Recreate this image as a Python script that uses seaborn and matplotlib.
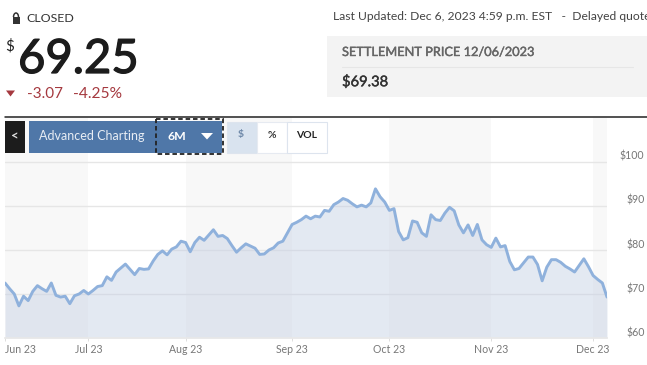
import numpy as np
import pandas as pd
import matplotlib
matplotlib.use('Agg')
import matplotlib.pyplot as plt
import matplotlib.patheffects as pe
from matplotlib.patches import Rectangle, Arc
import seaborn as sns

# settlement price per session, the axis is ordinal (one slot per session)
prices = [
    72.5, 71.2, 70.0, 67.3, 69.5, 68.5, 70.6, 71.9, 71.2, 70.6,
    72.5, 69.7, 69.3, 69.5, 67.8, 69.6, 70.0, 70.8, 70.0, 70.8,
    71.7, 71.9, 73.9, 73.1, 75.0, 75.9, 76.8, 75.6, 74.4, 75.8,
    75.6, 75.7, 77.5, 79.0, 79.8, 78.9, 80.2, 80.7, 82.0, 81.7,
    79.6, 81.7, 82.9, 82.2, 83.4, 84.6, 83.1, 83.3, 82.6, 81.0,
    79.5, 80.5, 81.4, 80.9, 80.4, 79.0, 79.1, 80.0, 80.5, 81.6,
    82.0, 83.9, 85.8, 86.3, 86.9, 87.7, 87.1, 87.7, 87.5, 89.0,
    88.8, 90.3, 90.9, 91.7, 91.3, 90.5, 89.8, 90.2, 89.8, 90.7,
    93.9, 92.1, 90.9, 89.0, 89.4, 84.2, 82.3, 82.8, 86.6, 86.3,
    83.9, 83.1, 88.0, 86.9, 86.7, 88.4, 89.7, 88.9, 85.7, 83.9,
    85.7, 83.3, 85.8, 82.3, 81.2, 80.6, 82.7, 80.7, 81.0, 77.4,
    75.5, 75.8, 77.1, 78.4, 78.4, 76.7, 73.0, 76.1, 77.8, 77.8,
    77.2, 76.3, 75.7, 75.0, 76.5, 78.0, 76.2, 74.2, 73.3, 72.5,
    69.3,
]
month_labels = ['Jun 23', 'Jul 23', 'Aug 23', 'Sep 23', 'Oct 23', 'Nov 23', 'Dec 23']
month_starts = [0, 18, 39, 62, 83, 105, 127]
y_ticks = [60, 70, 80, 90, 100]

W, H = 647, 365
BLUE = '#4f77a8'
RED = '#a5393f'

sns.set_theme(style='white')
plt.rcParams['font.family'] = ['Lato', 'DejaVu Sans']

df = pd.DataFrame({'session': np.arange(len(prices)), 'price': prices})
last_session = len(prices) - 1


def thick(width, color):
    # Lato regular is a bit too thin next to the reference, fatten it slightly
    return [pe.withStroke(linewidth=width, foreground=color)]


fig = plt.figure(figsize=(W / 100, H / 100), dpi=100, facecolor='white')

# chart area in pixels: x 5-607, y 118-338
ax = fig.add_axes([5 / W, 1 - 338 / H, 602 / W, 220 / H])
ax.set_facecolor('white')

# alternating month bands
edges = month_starts + [last_session]
for i in range(0, len(edges) - 1, 2):
    ax.axvspan(edges[i], edges[i + 1], color='#f8f8f8', lw=0, zorder=0)

for tick in y_ticks[1:]:
    ax.axhline(tick, color='#e6e6e6', lw=1, zorder=1)

ax.fill_between(df['session'], df['price'], 60, color='#c6d1e5', alpha=0.48, lw=0, zorder=2)
sns.lineplot(data=df, x='session', y='price', ax=ax, color='#8fb1dc', lw=2.1, zorder=3)

ax.set_xlim(0, last_session)
ax.set_ylim(60, 110)
ax.set_xlabel('')
ax.set_ylabel('')
for side in ['top', 'left', 'right']:
    ax.spines[side].set_visible(False)
ax.spines['bottom'].set_color('#e8e8e8')

ax.set_xticks(month_starts)
ax.set_xticklabels(month_labels, fontsize=7.6, color='#777777')
ax.tick_params(axis='x', length=2, width=0.7, color='#dddddd', pad=2, bottom=True)
ax.get_xticklabels()[0].set_ha('left')

ax.yaxis.tick_right()
ax.set_yticks(y_ticks)
ax.set_yticklabels([f'${t}' for t in y_ticks], fontsize=7.6, color='#777777')
ax.tick_params(axis='y', length=0, pad=27)
for lab in ax.get_yticklabels():
    lab.set_ha('right')
    lab.set_va('bottom')

# page furniture around the chart, drawn in pixel coordinates
ui = fig.add_axes([0, 0, 1, 1], zorder=5)
ui.set_xlim(0, W)
ui.set_ylim(H, 0)
ui.axis('off')
ui.patch.set_alpha(0)

# lock + closed
ui.add_patch(Rectangle((12.5, 17), 7, 7, color='#333333', lw=0))
ui.add_patch(Arc((16, 17), 5, 8, theta1=180, theta2=360, color='#333333', lw=1.1))
ui.text(26, 19, 'CLOSED', fontsize=8.9, color='#333333', va='center')

# last price
ui.text(5, 46, '$', fontsize=11, color='#222222', va='center')
ui.text(18, 60, '69.25', fontsize=34, color='#1c1c1c', va='center',
        path_effects=thick(0.9, '#1c1c1c'))
ui.fill([6, 15, 10.5], [90.5, 90.5, 96.5], color=RED, lw=0)
ui.text(27, 94, '-3.07', fontsize=11, color=RED, va='center')
ui.text(73, 94, '-4.25%', fontsize=11.2, color=RED, va='center')

# quote info
ui.text(333, 16, 'Last Updated: Dec 6, 2023 4:59 p.m. EST   -  Delayed quote',
        fontsize=8.75, color='#444444', va='center', clip_on=True)
ui.add_patch(Rectangle((327, 36), 320, 61, color='#f3f3f3', lw=0))
ui.text(342, 52, 'SETTLEMENT PRICE 12/06/2023', fontsize=9.2, color='#666666',
        va='center', path_effects=thick(0.3, '#666666'))
ui.plot([342, 633], [67, 67], color='#e6e6e6', lw=0.8)
ui.text(342, 82, '$69.38', fontsize=10.6, color='#333333', va='center',
        path_effects=thick(0.3, '#333333'))

ui.plot([5, W], [117, 117], color='#222222', lw=1.1)

# toolbar
ui.add_patch(Rectangle((5, 121), 20, 32, color='#1c1c1c', lw=0))
ui.text(15, 136.5, '<', fontsize=9.5, color='#dddddd', ha='center', va='center', fontweight='bold')
ui.add_patch(Rectangle((29, 121), 193, 32, color=BLUE, lw=0))
ui.text(39, 136.5, 'Advanced Charting', fontsize=9, color='#e8edf4', va='center')
ui.add_patch(Rectangle((155.5, 118.5), 67, 35.5, fill=False, ec='#222222', lw=1.3, ls=(0, (2.5, 1.6))))
ui.text(168, 136.5, '6M', fontsize=8.8, color='white', va='center', fontweight='bold')
ui.fill([201, 213, 207], [133, 133, 139.5], color='white', lw=0)

ui.add_patch(Rectangle((227, 121.5), 30, 31, fc='#d9e3ef', ec='#dde4ee', lw=0.8))
ui.add_patch(Rectangle((257, 121.5), 30, 31, fc='white', ec='#e6eaf1', lw=0.8))
ui.add_patch(Rectangle((287, 121.5), 40, 31, fc='white', ec='#dde4ee', lw=0.8))
ui.text(241, 135, '$', fontsize=7.5, color='#6d87a8', ha='center', va='center', fontweight='bold')
ui.text(271.5, 135, '%', fontsize=7.5, color='#333333', ha='center', va='center', fontweight='bold')
ui.text(307, 135, 'VOL', fontsize=7.5, color='#222222', ha='center', va='center', fontweight='bold')

fig.savefig('out.png', dpi=100)
plt.close(fig)
